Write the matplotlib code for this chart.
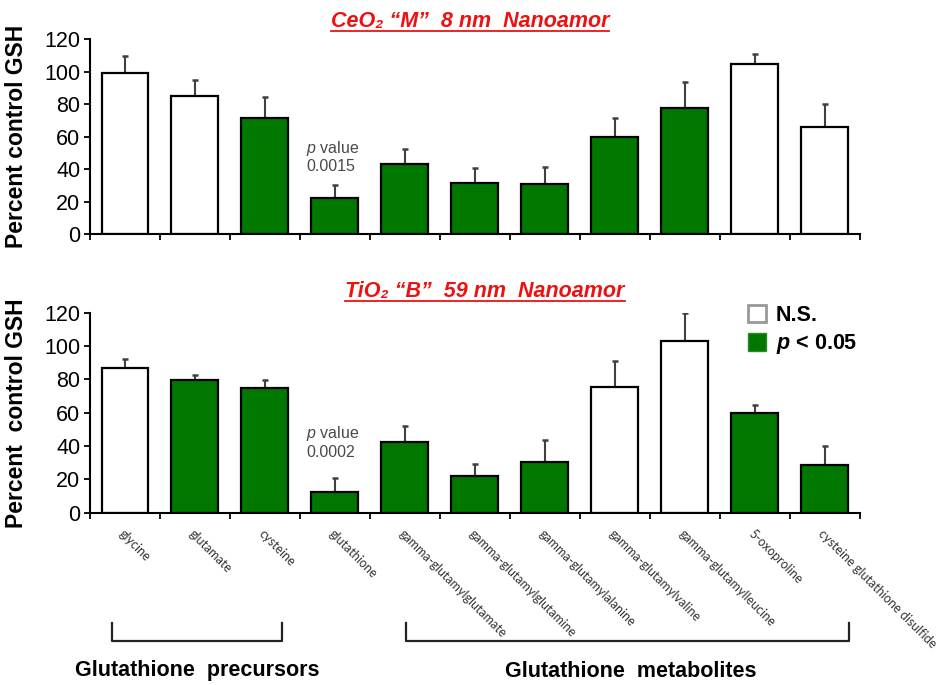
import numpy as np
import matplotlib
matplotlib.use('Agg')
import matplotlib.pyplot as plt
from matplotlib.patches import Patch
from matplotlib.lines import Line2D

plt.rcParams['font.family'] = ['Liberation Sans', 'DejaVu Sans']
plt.rcParams['mathtext.fontset'] = 'custom'
plt.rcParams['mathtext.rm'] = 'Liberation Sans'
plt.rcParams['mathtext.it'] = 'Liberation Sans:italic'
plt.rcParams['mathtext.bf'] = 'Liberation Sans:bold'
plt.rcParams['mathtext.bfit'] = 'Liberation Sans:bold:italic'

# Data
compounds = ['glycine', 'glutamate', 'cysteine', 'glutathione',
             'gamma-glutamylglutamate', 'gamma-glutamylglutamine',
             'gamma-glutamylalanine', 'gamma-glutamylvaline',
             'gamma-glutamylleucine', '5-oxoproline',
             'cysteine glutathione disulfide']

ceo2_mean = [99.4, 85.3, 71.8, 22.5, 43.3, 31.8, 31.0, 59.9, 77.9, 104.6, 65.8]
ceo2_sem = [10.3, 9.5, 12.9, 7.8, 9.4, 8.8, 10.2, 11.5, 15.6, 6.4, 14.2]
ceo2_sig = [False, False, True, True, True, True, True, True, True, False, False]

tio2_mean = [86.6, 79.8, 74.8, 12.4, 42.4, 22.0, 30.2, 75.4, 103.0, 59.8, 28.4]
tio2_sem = [5.4, 2.8, 5.0, 8.6, 9.8, 7.2, 13.2, 15.8, 17.0, 5.0, 11.6]
tio2_sig = [False, True, True, True, True, True, True, False, False, True, True]

GREEN = '#007800'
ERR = '#404040'

fig = plt.figure(figsize=(9.41, 6.85), dpi=100)
ax1 = fig.add_axes([0.0956, 0.658, 0.818, 0.2847])
ax2 = fig.add_axes([0.0956, 0.2515, 0.818, 0.292])

x = np.arange(len(compounds))


def draw_panel(ax, means, sems, sig, ylabel):
    means = np.array(means)
    tops = means + np.array(sems)
    colors = [GREEN if s else 'white' for s in sig]
    ax.vlines(x, means, tops, color=ERR, lw=1.5, zorder=1)
    ax.hlines(tops, x - 0.04, x + 0.04, color=ERR, lw=1.8, zorder=1)
    ax.bar(x, means, width=0.67, color=colors, edgecolor='black',
           linewidth=1.6, zorder=2)
    ax.set_xlim(-0.5, len(x) - 0.5)
    ax.set_ylim(0, 120)
    ax.set_yticks(np.arange(0, 121, 20))
    ax.set_xticks(np.arange(-0.5, len(x)), [])
    for side in ['top', 'right']:
        ax.spines[side].set_visible(False)
    for side in ['left', 'bottom']:
        ax.spines[side].set_linewidth(1.5)
    ax.tick_params(axis='y', labelsize=15.5, length=4, width=1.3, pad=3)
    ax.tick_params(axis='x', which='major', length=4, width=1.3)
    ax.set_ylabel(ylabel, fontsize=16.5, fontweight='bold')
    ax.yaxis.set_label_coords(-0.0805, 0.5)


draw_panel(ax1, ceo2_mean, ceo2_sem, ceo2_sig, 'Percent control GSH')
draw_panel(ax2, tio2_mean, tio2_sem, tio2_sig, 'Percent  control GSH')

# p value notes over glutathione
ax1.text(2.59, 53, '$p$ value', fontsize=11.5, color='#4a4a4a', va='center')
ax1.text(2.59, 41.4, '0.0015', fontsize=11.5, color='#4a4a4a', va='center')
ax2.text(2.59, 47.6, '$p$ value', fontsize=11.5, color='#4a4a4a', va='center')
ax2.text(2.59, 36, '0.0002', fontsize=11.5, color='#4a4a4a', va='center')

# rotated compound labels on the lower panel
ax2.set_xticks(x, compounds, minor=True)
ax2.tick_params(axis='x', which='minor', length=0, pad=11, labelsize=9,
                labelcolor='#333333')
for lab in ax2.get_xticklabels(minor=True):
    lab.set_rotation(-45)
    lab.set_rotation_mode('anchor')
    lab.set_ha('left')
    lab.set_va('top')
    lab.set_family(['Lato', 'DejaVu Sans'])

# group brackets
tr = ax2.get_xaxis_transform()
for x0, x1 in [(-0.18, 2.24), (4.02, 10.34)]:
    ax2.plot([x0, x0, x1, x1], [-0.55, -0.64, -0.64, -0.55], color='#222222',
             lw=1.6, transform=tr, clip_on=False)
ax2.text(1.03, -0.787, 'Glutathione  precursors', transform=tr, ha='center',
         va='center', fontsize=15.5, fontweight='bold')
ax2.text(7.23, -0.795, 'Glutathione  metabolites', transform=tr, ha='center',
         va='center', fontsize=15.5, fontweight='bold')

# legend
handles = [Patch(facecolor='white', edgecolor='#999999', linewidth=2),
           Patch(facecolor=GREEN, edgecolor='#2a8a2a', linewidth=1)]
ax2.legend(handles, ['N.S.', r'$\mathbfit{p}$ < 0.05'], loc='upper left',
           bbox_to_anchor=(748 / 941, 1 - 305 / 685),
           bbox_transform=fig.transFigure, frameon=False, borderpad=0,
           borderaxespad=0, handlelength=0.85, handleheight=0.85,
           handletextpad=0.45, labelspacing=0.3,
           prop={'size': 15.5, 'weight': 'bold'})

# panel titles, red bold italic, underlined
titles = []
titles.append(fig.text(470 / 941, 1 - 21 / 685, 'CeO\u2082 \u201cM\u201d  8 nm  Nanoamor',
                       ha='center', va='center', color='#ee1111', fontsize=15.5,
                       fontweight='bold', style='italic'))
titles.append(fig.text(485 / 941, 1 - 291 / 685, 'TiO\u2082 \u201cB\u201d  59 nm  Nanoamor',
                       ha='center', va='center', color='#ee1111', fontsize=15.5,
                       fontweight='bold', style='italic'))
fig.canvas.draw()
renderer = fig.canvas.get_renderer()
inv = fig.transFigure.inverted()
for t in titles:
    bb = t.get_window_extent(renderer)
    (fx0, fy), (fx1, _) = inv.transform([(bb.x0, bb.y0 + 1), (bb.x1, bb.y0 + 1)])
    fig.add_artist(Line2D([fx0, fx1], [fy, fy], color='#ee1111', lw=1.3,
                          transform=fig.transFigure))

fig.savefig('out.png', dpi=100)
